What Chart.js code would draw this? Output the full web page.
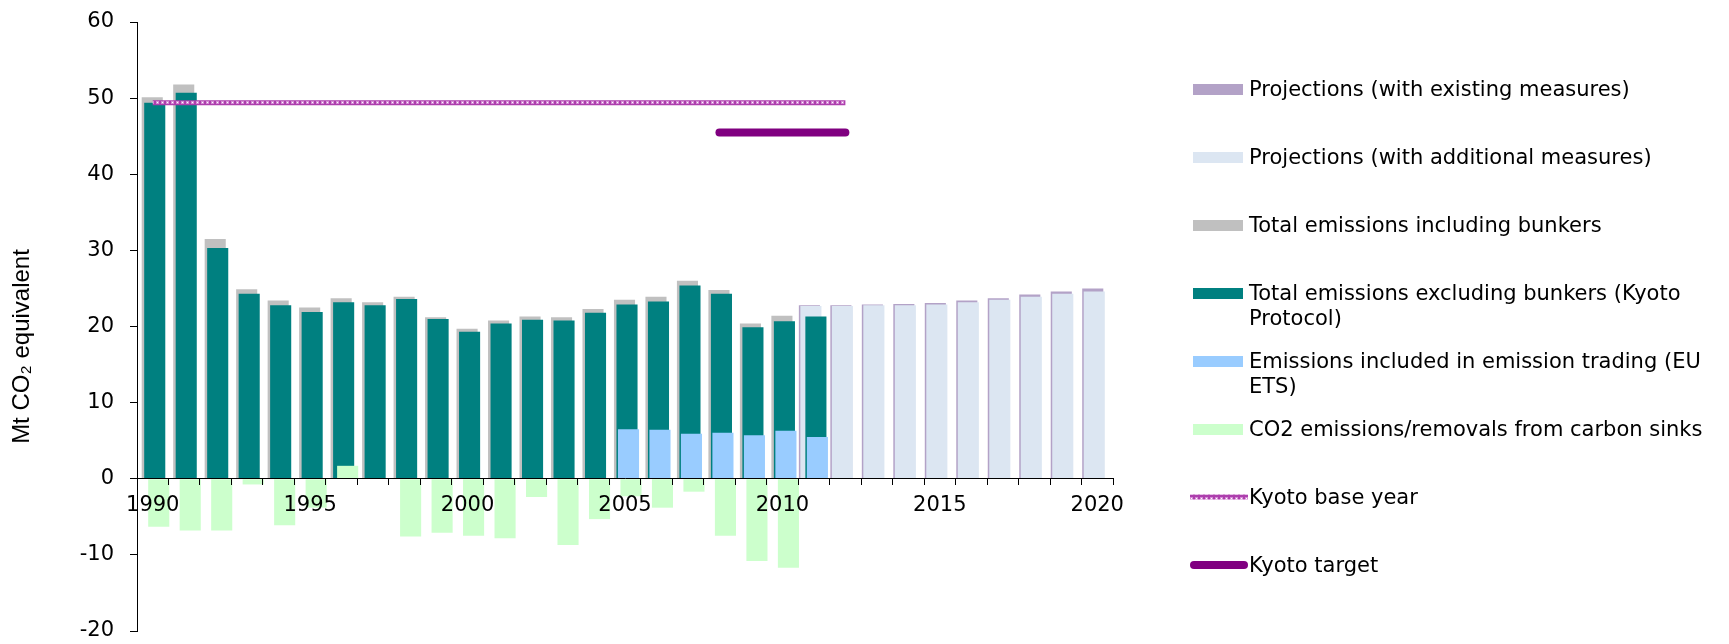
<!DOCTYPE html>
<html>
<head>
<meta charset="utf-8">
<script src="https://cdn.jsdelivr.net/npm/chart.js@4.4.1/dist/chart.umd.min.js"></script>
<style>
  html, body { margin: 0; padding: 0; background: #fff; }
  #wrap { position: relative; width: 1729px; height: 644px; }
  #myChart { position: absolute; left: 0; top: 0; }
  #legend { position: absolute; left: 0; top: 0; width: 1729px; height: 644px; pointer-events: none;
            font-family: "DejaVu Sans", Verdana, sans-serif; font-size: 21px; color: #000; }
  .item { position: absolute; left: 1193px; }
  .swatch { position: absolute; left: 0; top: 7px; width: 50px; height: 11px; }
  .text { position: absolute; left: 56px; top: 0; width: 470px; line-height: 25px; }
</style>
</head>
<body>
<div id="wrap">
  <canvas id="myChart" width="1729" height="644"></canvas>
  <div id="legend"></div>
</div>
<script>
var years = [];
for (var y = 1990; y <= 2020; y++) years.push(y);

// Mt CO2 equivalent
var inclBunkers = [50.1, 51.8, 31.5, 24.9, 23.4, 22.5, 23.7, 23.2, 23.9, 21.2, 19.7, 20.8, 21.3, 21.2, 22.3, 23.5, 23.9, 26.0, 24.8, 20.4, 21.4, null,
  null, null, null, null, null, null, null, null, null];
var exclBunkers = [49.4, 50.7, 30.3, 24.3, 22.8, 21.9, 23.2, 22.8, 23.6, 21.0, 19.3, 20.4, 20.9, 20.8, 21.8, 22.9, 23.3, 25.4, 24.3, 19.9, 20.7, 21.3,
  null, null, null, null, null, null, null, null, null];
var euEts = [null, null, null, null, null, null, null, null, null, null, null, null, null, null, null,
  6.5, 6.45, 5.9, 6.05, 5.7, 6.3, 5.5, null, null, null, null, null, null, null, null, null];
var sinks = [-6.3, -6.8, -6.8, -0.75, -6.1, -3.8, 1.7, null, -7.6, -7.1, -7.5, -7.8, -2.4, -8.7, -5.3, -2.3, -3.8, -1.7, -7.5, -10.8, -11.7, null,
  null, null, null, null, null, null, null, null, null];
var projExisting = [null, null, null, null, null, null, null, null, null, null, null, null, null, null, null, null, null, null, null, null, null,
  22.8, 22.8, 22.9, 22.95, 23.1, 23.4, 23.7, 24.2, 24.6, 25.0];
var projAdditional = [null, null, null, null, null, null, null, null, null, null, null, null, null, null, null, null, null, null, null, null, null,
  22.7, 22.7, 22.8, 22.8, 22.9, 23.2, 23.5, 23.9, 24.3, 24.6];
var kyotoBase = [49.4, 49.4, 49.4, 49.4, 49.4, 49.4, 49.4, 49.4, 49.4, 49.4, 49.4, 49.4, 49.4, 49.4, 49.4, 49.4, 49.4, 49.4, 49.4, 49.4, 49.4, 49.4, 49.4,
  null, null, null, null, null, null, null, null];
var kyotoTarget = [null, null, null, null, null, null, null, null, null, null, null, null, null, null, null, null, null, null,
  45.5, 45.5, 45.5, 45.5, 45.5, null, null, null, null, null, null, null, null];
var yTicks = [-20, -10, 0, 10, 20, 30, 40, 50, 60];

// chain-of-circles look of the base year line
function basePatternCanvas() {
  var c = document.createElement('canvas');
  c.width = 5; c.height = 5;
  var g = c.getContext('2d');
  g.fillStyle = '#ad3fad';
  g.fillRect(0, 0, 5, 5);
  g.fillStyle = '#d48ad4';
  g.fillRect(1, 1, 3, 3);
  g.fillStyle = '#ffffff';
  g.fillRect(2, 2, 1, 1);
  return c;
}
var patternTile = basePatternCanvas();
var pattern = document.createElement('canvas').getContext('2d').createPattern(patternTile, 'repeat');

// excel style overlapping bars: nudge each series sideways a bit
var shiftPlugin = {
  id: 'shift',
  beforeDatasetDraw: function(chart, args) {
    var dx = chart.data.datasets[args.index].shift || 0;
    chart.ctx.save();
    chart.ctx.translate(dx, 0);
  },
  afterDatasetDraw: function(chart) {
    chart.ctx.restore();
  }
};

var barOpts = { categoryPercentage: 1, barPercentage: 0.67, grouped: false, borderWidth: 0 };

var config = {
  type: 'bar',
  data: {
    labels: years,
    datasets: [
      Object.assign({ label: 'Projections (with existing measures)', data: projExisting, backgroundColor: '#b3a2c7', order: 6, shift: -4.5 }, barOpts),
      Object.assign({ label: 'Projections (with additional measures)', data: projAdditional, backgroundColor: '#dce6f2', order: 5, shift: -3 }, barOpts),
      Object.assign({ label: 'Total emissions including bunkers', data: inclBunkers, backgroundColor: '#c0c0c0', order: 4, shift: -0.5 }, barOpts),
      Object.assign({ label: 'Total emissions excluding bunkers (Kyoto Protocol)', data: exclBunkers, backgroundColor: '#008080', order: 3, shift: 2 }, barOpts),
      Object.assign({ label: 'Emissions included in emission trading (EU ETS)', data: euEts, backgroundColor: '#99ccff', order: 2, shift: 3.5 }, barOpts),
      Object.assign({ label: 'CO2 emissions/removals from carbon sinks', data: sinks, backgroundColor: '#ccffcc', order: 1, shift: 6 }, barOpts),
      { type: 'line', label: 'Kyoto base year', data: kyotoBase, borderColor: pattern, borderWidth: 5,
        pointRadius: 0, order: 0, spanGaps: false, swatch: 'base' },
      { type: 'line', label: 'Kyoto target', data: kyotoTarget, borderColor: '#800080', borderWidth: 8,
        borderCapStyle: 'round', pointRadius: 0, order: 0, spanGaps: false, swatch: 'target' }
    ]
  },
  options: {
    responsive: false,
    devicePixelRatio: 1,
    animation: false,
    layout: { padding: { left: 0, right: 616, top: 22, bottom: 13 } },
    plugins: { legend: { display: false }, tooltip: { enabled: false } },
    scales: {
      x: {
        position: { y: 0 },
        offset: true,
        grid: { offset: true, drawOnChartArea: false, tickLength: 6, color: '#000', z: 1 },
        border: { color: '#000', width: 1, z: 1 },
        ticks: {
          z: 1, autoSkip: false, maxRotation: 0, padding: 8, color: '#000',
          font: { family: 'DejaVu Sans', size: 21 },
          callback: function(v, i) { return years[i] % 5 === 0 ? String(years[i]) : ''; }
        }
      },
      y: {
        min: -20, max: 60,
        afterFit: function(scale) {
          scale.width = 137;
          scale.paddingTop = 12;
          scale.paddingBottom = 12;
        },
        afterBuildTicks: function(scale) { scale.ticks = yTicks.map(function(v) { return { value: v }; }); },
        grid: { drawOnChartArea: false, tickLength: 7, color: '#000' },
        border: { color: '#000', width: 1 },
        ticks: { padding: 16, color: '#000', font: { family: 'DejaVu Sans', size: 21 } },
        title: {
          display: true, text: 'Mt CO\u2082 equivalent      ', color: '#000',
          font: { family: 'Liberation Sans', size: 24 }, padding: { top: 8, bottom: 0 }
        }
      }
    }
  },
  plugins: [shiftPlugin]
};

var ctx = document.getElementById('myChart').getContext('2d');
var myChart = new Chart(ctx, config);

// legend on the right, built from the datasets
var legend = document.getElementById('legend');
myChart.data.datasets.forEach(function(ds, i) {
  var item = document.createElement('div');
  item.className = 'item';
  item.style.top = (89 + 68 * i - 12) + 'px';
  var sw;
  if (ds.swatch) {
    sw = document.createElement('canvas');
    sw.width = 60; sw.height = 12;
    sw.className = 'swatch';
    sw.style.left = '-4px'; sw.style.top = '6px'; sw.style.width = '60px'; sw.style.height = '12px';
    var g = sw.getContext('2d');
    g.beginPath();
    g.moveTo(ds.swatch === 'target' ? 5 : 1, 6);
    g.lineTo(ds.swatch === 'target' ? 55 : 59, 6);
    g.lineWidth = ds.borderWidth;
    g.lineCap = ds.borderCapStyle || 'butt';
    g.strokeStyle = ds.swatch === 'base' ? g.createPattern(patternTile, 'repeat') : ds.borderColor;
    g.stroke();
  } else {
    sw = document.createElement('div');
    sw.className = 'swatch';
    sw.style.background = ds.backgroundColor;
  }
  var tx = document.createElement('div');
  tx.className = 'text';
  tx.textContent = ds.label;
  item.appendChild(sw);
  item.appendChild(tx);
  legend.appendChild(item);
});
</script>
</body>
</html>
